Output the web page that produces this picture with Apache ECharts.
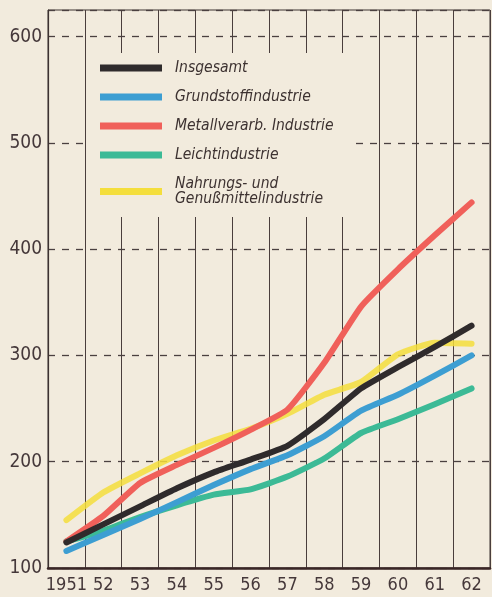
<!DOCTYPE html>
<html>
<head>
<meta charset="utf-8">
<script src="https://cdn.jsdelivr.net/npm/echarts@6/dist/echarts.min.js"></script>
<style>
html,body{margin:0;padding:0;background:#f2ebdd;}
#c{width:492px;height:597px;}
</style>
</head>
<body>
<div id="c"></div>
<script>
const years = ['1951','52','53','54','55','56','57','58','59','60','61','62'];
const insgesamt = [124, 141, 158, 175, 190, 202, 215, 240, 269, 289, 308, 328];
const grundstoff = [116, 131, 146, 162, 178, 193, 206, 224, 248, 263, 281, 300];
const metall = [125, 149, 180, 197, 213, 230, 249, 293, 346, 381, 413, 444];
const leicht = [125, 135, 148, 159, 169, 174, 186, 203, 227, 240, 254, 269];
const nahrung = [145, 171, 189, 206, 220, 231, 245, 263, 275, 301, 312, 311];
const yTicks = [100, 200, 300, 400, 500, 600];
const names = ['Insgesamt', 'Grundstoffindustrie', 'Metallverarb. Industrie', 'Leichtindustrie', 'Nahrungs- und\nGenußmittelindustrie'];

const FONT = "'DejaVu Sans Condensed', 'DejaVu Sans', sans-serif";
const LFONT = "'DejaVu Sans Condensed', 'DejaVu Sans', sans-serif";
const BG = '#f2ebdd';
const INK = '#3d3231';

function line(name, data, color, z, opacity) {
  return {
    name: name, type: 'line', data: data, z: z,
    symbol: 'none', smooth: 0.15,
    itemStyle: { color: color },
    lineStyle: { color: color, width: 6, cap: 'round', join: 'round', opacity: opacity },
    emphasis: { disabled: true }
  };
}

const chart = echarts.init(document.getElementById('c'), null, { renderer: 'canvas' });
chart.setOption({
  backgroundColor: BG,
  animation: false,
  grid: { left: 48, right: 2, top: 10, bottom: 29, show: true, borderColor: INK, borderWidth: 1, backgroundColor: 'transparent' },
  legend: {
    orient: 'vertical', left: 86, top: 53,
    padding: [7, 22, 10, 14],
    backgroundColor: BG,
    icon: 'rect', itemWidth: 62, itemHeight: 7, itemGap: 13,
    data: names,
    textStyle: { fontFamily: LFONT, fontStyle: 'italic', fontSize: 15.5, lineHeight: 15, color: INK, padding: [0, 0, 0, 8] }
  },
  xAxis: {
    type: 'category', data: years, boundaryGap: true,
    axisLine: { lineStyle: { color: '#3a2626', width: 2.5 } },
    axisTick: { show: false },
    axisLabel: { fontFamily: FONT, fontSize: 18, color: '#45383a', margin: 8, interval: 0 },
    splitLine: { show: true, interval: 0, lineStyle: { color: '#4a3e3c', width: 1 } }
  },
  yAxis: {
    type: 'value', min: 100, max: 625, interval: 100,
    axisLine: { show: true, lineStyle: { color: INK, width: 1.2 } },
    axisTick: { show: false },
    axisLabel: { fontFamily: FONT, fontSize: 19, color: '#45383a', margin: 6,
      formatter: v => yTicks.indexOf(v) >= 0 ? String(v) : '' },
    splitLine: { show: true, lineStyle: { color: '#4a4040', width: 1.3, type: [7, 7] } }
  },
  series: [
    line(names[4], nahrung, '#f4de3c', 1, 0.85),
    line(names[3], leicht, '#3cba96', 2, 1),
    line(names[1], grundstoff, '#3d9ed2', 3, 1),
    line(names[2], metall, '#f0605a', 4, 1),
    line(names[0], insgesamt, '#2f2b2c', 5, 1)
  ]
});
</script>
</body>
</html>
